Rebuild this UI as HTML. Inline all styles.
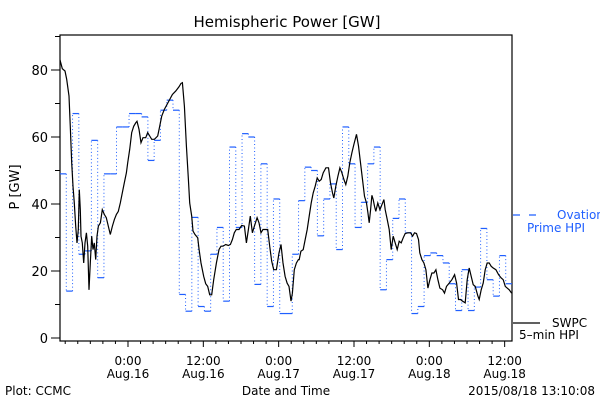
<!DOCTYPE html>
<html><head><meta charset="utf-8"><style>
body{margin:0;background:#fff;}
svg text{font-family:"DejaVu Sans","Liberation Sans",sans-serif;}
</style></head><body>
<svg width="600" height="400" viewBox="0 0 600 400" xmlns="http://www.w3.org/2000/svg">
<rect width="600" height="400" fill="#fff"/>
<text x="287" y="27" font-size="15" text-anchor="middle">Hemispheric Power [GW]</text>
<g id="axes"></g>
<g id="series"></g>
<text transform="translate(19,187) rotate(-90)" font-size="13" text-anchor="middle">P [GW]</text>
<text x="286" y="395" font-size="12" text-anchor="middle">Date and Time</text>
<text x="5" y="395" font-size="12">Plot: CCMC</text>
<text x="595" y="395" font-size="12" text-anchor="end">2015/08/18 13:10:08</text>
<g>
<line x1="513" y1="215" x2="545" y2="215" stroke="#1f5fff" stroke-width="1.2" stroke-dasharray="7,9"/>
<text x="557" y="219" font-size="12" fill="#1f5fff">Ovation</text>
<text x="527" y="232" font-size="12" fill="#1f5fff">Prime HPI</text>
</g>
<g>
<line x1="513" y1="323" x2="540" y2="323" stroke="#000" stroke-width="1.2"/>
<text x="552" y="327" font-size="12">SWPC</text>
<text x="519" y="339" font-size="12">5–min HPI</text>
</g>
</svg>
<script>
// Hours since 2015-08-15 13:10
const ovationValues = [49,14,67,25,26,59,18,49,49,63,63,67,67,66,53,59,68,71,68,13,8,36,9.4,8,25,33,11,57,33,61,60,16,52,9.4,41.5,7.3,7.3,25,
41,51,50,30.5,41.5,46,26.4,63,52,33,40.5,52,57,14.4,23.4,35.7,41.5,31.4,7.3,9.4,24.6,25.4,24.6,22.4,16.2,8.2,20.4,8.2,15.2,32.7,17.4,12.5,24.6,16.2];
const swpcTimes = [0,0.37,0.8,1.06,1.43,1.65,1.86,2.07,2.28,2.5,2.71,2.92,3.08,3.24,3.35,3.56,3.77,3.98,4.2,4.41,4.62,4.83,5.05,5.26,5.47,5.68,5.89,6.11,6.43,6.74,7.06,7.38,7.7,8.02,8.34,8.66,8.98,9.29,9.61,9.93,10.25,10.57,10.78,11.1,11.42,11.74,12.06,12.27,12.59,12.9,13.22,13.65,13.97,14.29,14.6,15.03,15.56,15.88,16.2,16.62,17.05,17.47,17.9,18.43,18.96,19.28,19.49,19.81,20.13,20.45,20.66,20.98,21.19,21.51,21.93,22.15,22.46,22.89,23.21,23.53,23.84,24.16,24.48,24.91,25.33,25.65,25.97,26.39,26.82,27.14,27.46,27.77,28.09,28.52,28.94,29.37,29.69,30.01,30.32,30.64,30.96,31.39,31.7,32.02,32.34,32.77,33.09,33.4,33.72,34.04,34.47,34.89,35.21,35.53,35.85,36.17,36.48,36.8,37.02,37.33,37.65,37.97,
38.1,38.37,38.74,39.06,39.37,39.69,40.01,40.33,40.65,40.97,41.29,41.6,41.92,42.35,42.77,43.09,43.41,43.62,43.94,44.26,44.58,44.9,45.22,45.53,45.85,46.17,46.49,46.81,47.23,47.55,47.87,48.19,48.51,48.83,49.04,49.25,49.47,49.68,49.89,50.1,50.31,50.63,50.95,51.27,51.59,51.8,52.12,52.44,52.76,53.08,53.39,53.71,54.03,54.35,54.67,54.99,55.41,55.84,56.16,56.47,56.79,57.11,57.32,57.64,57.96,58.28,58.6,58.92,59.24,59.56,59.87,60.19,60.51,60.94,61.25,61.57,62.0,62.42,62.85,63.17,63.48,63.8,64.12,64.55,64.87,65.18,65.5,65.82,66.14,66.57,66.78,67.1,67.41,67.73,68.05,68.37,68.69,69.01,69.43,69.86,70.28,70.6,70.93,71.56,71.93];
const swpcValues = [83,80.4,79.7,77.2,72.2,62.3,52.3,45.3,40.3,33.4,28.4,32.4,44.3,38.3,30.4,28.4,22.4,28.4,31.4,27.4,14.4,22.4,30.4,26.4,28.4,23.4,30.4,33.4,34.4,38.3,36.9,35.9,33.4,30.9,33.4,35.4,36.9,37.8,40.3,43.3,46.3,49.3,52.3,56.3,61.3,63.2,64.2,64.7,62.3,58.3,59.8,59.8,61.3,60.3,59.3,59.3,60.3,63.2,66.2,68.2,69.7,71.2,72.7,73.7,75,76,76.2,69.2,57.3,47.3,40.3,36.4,31.9,30.9,29.9,26.4,22.4,18.4,16.2,15.4,12.9,12.9,17.4,22.4,26.4,27.4,27.4,27.9,27.6,27.9,29.4,31.4,32.4,32.4,33.6,33.4,28.4,32.4,36.4,31.4,33.4,35.9,34.4,31.4,32.4,32.4,32.4,27.4,22.9,20.4,20.4,25.4,27.9,22.4,18.4,16.4,15.4,11,13.4,20.4,22.4,23.4,
23.4,25.9,26.4,29.4,32.4,36.4,40.3,43.3,45.3,47.8,46.8,47.3,49.3,50.8,50.8,46.3,43.3,41.8,45.3,48.3,50.8,49.3,47.3,45.8,48.3,52.3,55.3,57.8,60.8,57.3,52.3,47.3,42.3,40.3,37.4,34.4,38.3,42.6,41.3,39.3,37.8,40.3,38.3,39.8,41.3,38.3,35.4,32.4,26.4,30.4,28.4,26.4,28.9,28.4,29.9,31.2,31.4,31.4,30.4,31.4,31.2,29.4,25.4,23.4,22.4,20.4,14.9,17.4,19.4,19.4,20.4,17.4,14.9,14.4,13.4,15.4,16.4,17.4,18.9,16.4,11.5,11.5,11,10.5,17.4,20.9,18.4,15.9,15.4,12.5,11.5,14.4,16.4,20.4,22.4,22.4,21.4,20.9,20.4,18.9,17.9,17.4,15.4,14.4,13.4];
const yTickLabels = ["0","20","40","60","80"];
const xTickTimes = ["0:00","12:00","0:00","12:00","0:00","12:00"];
const xTickDates = ["Aug.16","Aug.16","Aug.17","Aug.17","Aug.18","Aug.18"];

const X0=60,X1=512,TMAX=72,FIRST_MAJOR=10.83;
const xs=t=>X0+t*(X1-X0)/TMAX;
const ys=v=>338-v*3.35;
const NS="http://www.w3.org/2000/svg";
function mk(tag,attrs,parent){const e=document.createElementNS(NS,tag);for(const k in attrs)e.setAttribute(k,attrs[k]);parent.appendChild(e);return e;}
const axes=document.getElementById('axes'),series=document.getElementById('series');

const frame=mk('rect',{x:X0,y:35,width:X1-X0,height:306,fill:'none',stroke:'#000','stroke-width':1.2},axes);


for(let v=0;v<=90;v+=10){
  const major=v%20===0;
  const tk=mk('line',{x1:X0-(major?9:5),x2:X0,y1:ys(v),y2:ys(v),stroke:'#000'},axes);
  
  
  if(major&&v/20<yTickLabels.length){
    const t=mk('text',{x:X0-12,y:ys(v)+5,'font-size':13,'text-anchor':'end'},axes);
    t.textContent=yTickLabels[v/20];
    
    
  }
}
for(let t=FIRST_MAJOR-10;t<=TMAX;t+=2){
  const idx=Math.round((t-FIRST_MAJOR)/2);
  const major=idx>=0&&idx%6===0;
  const tk=mk('line',{x1:xs(t),x2:xs(t),y1:341,y2:341+(major?6:3),stroke:'#000'},axes);
  
  
  if(major){
    const k=idx/6;
    if(k<xTickTimes.length){
      const a=mk('text',{x:xs(t),y:365,'font-size':12,'text-anchor':'middle'},axes);
      a.textContent=xTickTimes[k];
      
      
      const b=mk('text',{x:xs(t),y:378,'font-size':12,'text-anchor':'middle'},axes);
      b.textContent=xTickDates[k];
      
      
    }
  }
}
// Ovation steps
const og=mk('g',{},series);


ovationValues.forEach((v,i)=>{
  const h=mk('line',{x1:xs(i),x2:xs(i+1),y1:ys(v),y2:ys(v),stroke:'#1f5fff','stroke-width':1.2},og);
  
  
  if(i>0){
    const d=mk('line',{x1:xs(i),x2:xs(i),y1:ys(ovationValues[i-1]),y2:ys(v),stroke:'#1f5fff','stroke-width':1,'stroke-dasharray':'1,2.5'},og);
    
    
  }
});
// SWPC line
const pts=swpcTimes.map((t,i)=>xs(t).toFixed(1)+','+ys(swpcValues[i]).toFixed(1)).join(' ');
const pl=mk('polyline',{points:pts,fill:'none',stroke:'#000','stroke-width':1.2},series);


</script>
</body></html>
